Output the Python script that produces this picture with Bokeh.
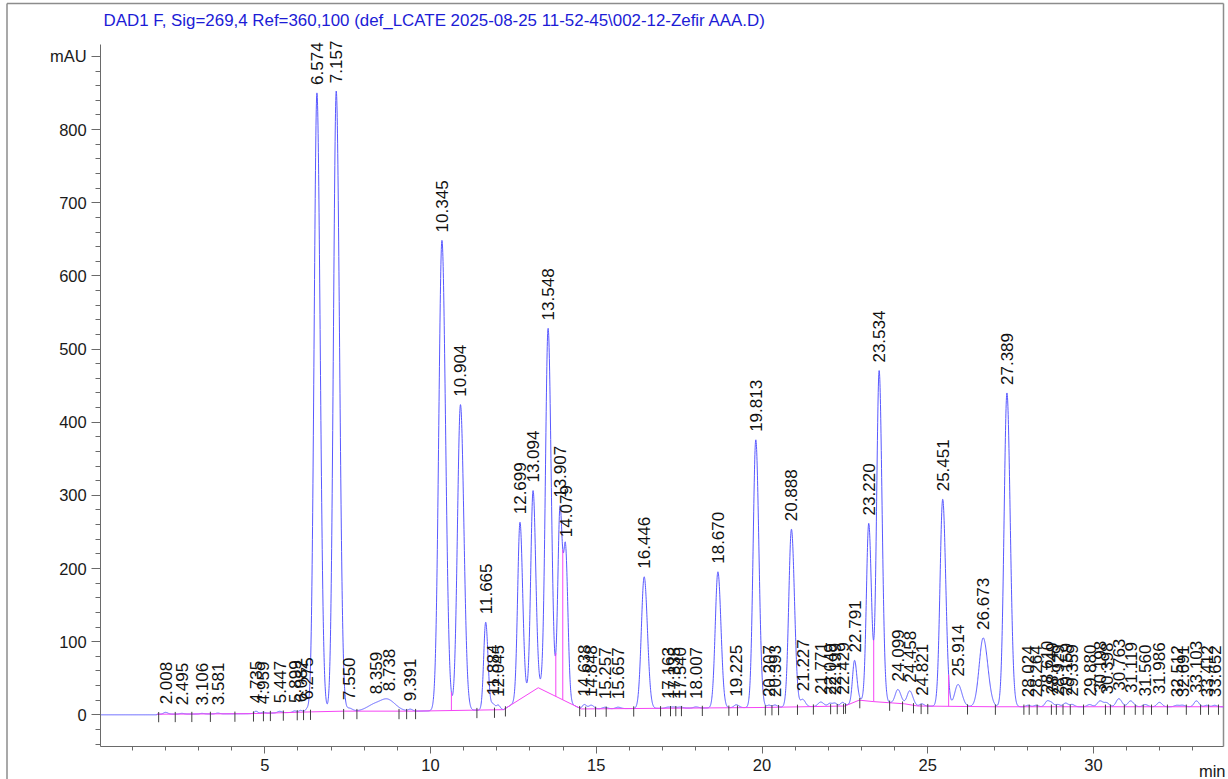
import numpy as np
from bokeh.plotting import figure
from bokeh.models import Range1d, FixedTicker, Label
from bokeh.core.properties import value
from bokeh.embed import file_html
from bokeh.resources import INLINE

TITLE = "DAD1 F, Sig=269,4 Ref=360,100 (def_LCATE 2025-08-25 11-52-45\\002-12-Zefir AAA.D)"

# Integrated peaks: retention time (min), height above baseline (mAU), peak sigma (min)
peak_rt = [2.008, 2.495, 3.106, 3.581, 4.735, 4.959, 5.447, 5.899, 6.082, 6.275,
           6.574, 7.157, 7.550, 8.359, 8.738, 9.391, 10.345, 10.904, 11.665, 11.884,
           12.045, 12.699, 13.094, 13.548, 13.907, 14.079, 14.638, 14.848, 15.257, 15.657,
           16.446, 17.163, 17.335, 17.540, 18.007, 18.670, 19.225, 19.813, 20.207, 20.393,
           20.888, 21.227, 21.771, 22.049, 22.199, 22.429, 22.791, 23.220, 23.534, 24.099,
           24.458, 24.821, 25.451, 25.914, 26.673, 27.389, 28.024, 28.264, 28.610, 28.749,
           28.929, 29.159, 29.359, 29.880, 30.198, 30.398, 30.763, 31.119, 31.560, 31.986,
           32.512, 32.691, 33.103, 33.412, 33.652]
peak_height = [2.5, 1.0, 0.8, 1.0, 3.0, 1.5, 2.0, 2.0, 2.5, 4.0,
               846, 848, 4, 10, 12, 2.5, 643, 418, 120, 8,
               6, 242, 274, 498, 260, 195, 6, 5, 2, 2,
               180, 1.5, 1.5, 1.5, 1.5, 186, 4, 366, 3, 3,
               243, 10, 6, 4, 4, 5, 57, 243, 453, 19,
               19, 3, 283, 30, 94, 429, 2, 2, 8, 4,
               3, 5, 3, 3, 8, 5, 11, 8, 3, 6,
               2, 2, 8, 2, 2]
peak_sigma = [0.06, 0.06, 0.06, 0.06, 0.05, 0.05, 0.06, 0.05, 0.05, 0.05,
              0.085, 0.085, 0.08, 0.25, 0.20, 0.06, 0.095, 0.09, 0.06, 0.06,
              0.05, 0.07, 0.07, 0.08, 0.065, 0.06, 0.06, 0.07, 0.07, 0.07,
              0.085, 0.07, 0.07, 0.07, 0.07, 0.08, 0.07, 0.08, 0.06, 0.06,
              0.08, 0.07, 0.08, 0.06, 0.06, 0.06, 0.06, 0.07, 0.075, 0.08,
              0.08, 0.06, 0.08, 0.10, 0.12, 0.085, 0.06, 0.06, 0.07, 0.06,
              0.06, 0.07, 0.06, 0.07, 0.08, 0.07, 0.08, 0.08, 0.07, 0.07,
              0.07, 0.07, 0.07, 0.06, 0.06]
TAIL = 1.15  # trailing-side sigma factor

# Integration baseline (min, mAU)
baseline_t = [1.75, 4.5, 6.4, 7.4, 9.5, 12.2, 13.25, 14.55, 20.0, 22.5, 22.93, 23.37, 24.3, 24.7, 27.0, 33.92]
baseline_v = [0.8, 1.5, 4.0, 5.0, 5.0, 7.0, 37.0, 8.0, 10.0, 12.0, 20.0, 18.0, 15.0, 12.0, 11.0, 11.0]

# Peak start / end event marks and valley drop lines (min)
event_t = [1.80, 2.30, 2.80, 3.36, 4.10, 4.66, 4.96, 5.17, 5.56, 5.98, 6.17, 6.38,
           7.38, 7.78, 9.05, 9.28, 9.55, 11.40, 11.93, 12.26, 14.50, 14.68, 14.98, 15.30,
           16.13, 16.94, 17.24, 17.40, 17.57, 18.20, 19.00, 19.26, 20.10, 20.30, 20.50,
           21.07, 21.55, 22.07, 22.27, 22.46, 22.52, 22.95, 23.85, 24.24, 24.57, 24.80,
           25.00, 26.20, 27.04, 27.90, 28.06, 28.30, 28.73, 28.88, 29.08, 29.30, 29.70,
           30.36, 30.51, 30.93, 31.26, 31.50, 31.75, 32.23, 32.80, 33.23, 33.47, 33.77]
drop_t = [10.63, 13.78, 13.99, 23.37, 25.63]

x_major = [5, 10, 15, 20, 25, 30]
x_minor = list(range(1, 34))
y_major = [0, 100, 200, 300, 400, 500, 600, 700, 800, 900]
y_minor = list(range(-40, 920, 20))

# Axis extents (min, mAU)
T0, T1 = 0.05, 33.92
V0, V1 = -43.3, 917.0

# Page geometry: the data frame fills the whole canvas, axes sit at fixed locations
W, H = 1228, 779
PX_PER_MIN, ORIGIN_X = 33.15, 98.5
PX_PER_MAU, ORIGIN_Y = 0.7315, 714.3


def tx(px):
    return (px - ORIGIN_X) / PX_PER_MIN


def vy(py):
    return (ORIGIN_Y - py) / PX_PER_MAU


# Detector trace
t = np.arange(T0, T1, 0.004)
base = np.interp(t, baseline_t, baseline_v, left=0.0)
signal = base.copy()
for rt, h, s in zip(peak_rt, peak_height, peak_sigma):
    d = t - rt
    w = np.where(d < 0, s, s * TAIL)
    signal += h * np.exp(-0.5 * (d / w) ** 2)

FONT = "Liberation Sans"

p = figure(width=W, height=H, x_range=Range1d(tx(0), tx(W)), y_range=Range1d(vy(H), vy(0)),
           output_backend="svg", toolbar_location=None, min_border=0)
p.background_fill_color = "white"
p.border_fill_color = "white"
p.outline_line_color = None
p.grid.visible = False

for ax in (p.xaxis, p.yaxis):
    ax.axis_line_color = "#6a6a6a"
    ax.major_tick_line_color = "#6a6a6a"
    ax.minor_tick_line_color = "#6a6a6a"
    ax.major_tick_in = 0
    ax.minor_tick_in = 0
    ax.major_label_text_font = FONT
    ax.major_label_text_font_size = "16.5px"
    ax.major_label_text_color = "#1a1a1a"

p.xaxis.fixed_location = V0
p.xaxis.bounds = (T0, T1)
p.xaxis.ticker = FixedTicker(ticks=x_major, minor_ticks=x_minor)
p.xaxis.major_tick_out = 7
p.xaxis.minor_tick_out = 4
p.xaxis.major_label_standoff = 6

p.yaxis.fixed_location = T0
p.yaxis.bounds = (V0, V1)
p.yaxis.ticker = FixedTicker(ticks=y_major, minor_ticks=y_minor)
p.yaxis.major_label_overrides = {900: "mAU"}
p.yaxis.major_tick_out = 9
p.yaxis.minor_tick_out = 5
p.yaxis.major_label_standoff = 5

# Page frame lines
FRAME = "#8c8c8c"
p.segment(x0=[tx(6.5), tx(6.5), tx(1223)], y0=[vy(3), vy(3), vy(3)],
          x1=[tx(6.5), tx(1223), tx(1223)], y1=[vy(H), vy(3), vy(746)],
          line_color=FRAME, line_width=1.5)

# Trace, integration baseline, drop lines, event marks
p.line(t, signal, line_color="#5858ff", line_width=1)
p.line(baseline_t, baseline_v, line_color="#f545f5", line_width=1)

drop_base = np.interp(drop_t, baseline_t, baseline_v)
drop_top = np.interp(drop_t, t, signal)
p.segment(x0=drop_t, y0=drop_base, x1=drop_t, y1=drop_top, line_color="#f545f5", line_width=1)

ev_base = np.interp(event_t, baseline_t, baseline_v, left=0.0)
p.segment(x0=event_t, y0=ev_base + 3, x1=event_t, y1=ev_base - 11, line_color="#404040", line_width=1)

# Retention-time labels above each apex
apex = np.interp(peak_rt, t, signal)
p.text(x=peak_rt, y=apex, text=[f"{r:.3f}" for r in peak_rt], angle=np.pi / 2,
       text_align="left", text_baseline="middle", y_offset=-8,
       text_font=value(FONT), text_font_size="17px", text_color="#111111")

# Title and time-axis unit
p.add_layout(Label(x=tx(103), y=vy(20), text=TITLE, text_align="left", text_baseline="middle",
                   text_font=FONT, text_font_size="16.9px", text_color="#1c1cd6"))
p.add_layout(Label(x=tx(1225), y=vy(770), text="min", text_align="right", text_baseline="middle",
                   text_font=FONT, text_font_size="16.5px", text_color="#1a1a1a"))

open("out.html", "w").write(file_html(p, INLINE))
